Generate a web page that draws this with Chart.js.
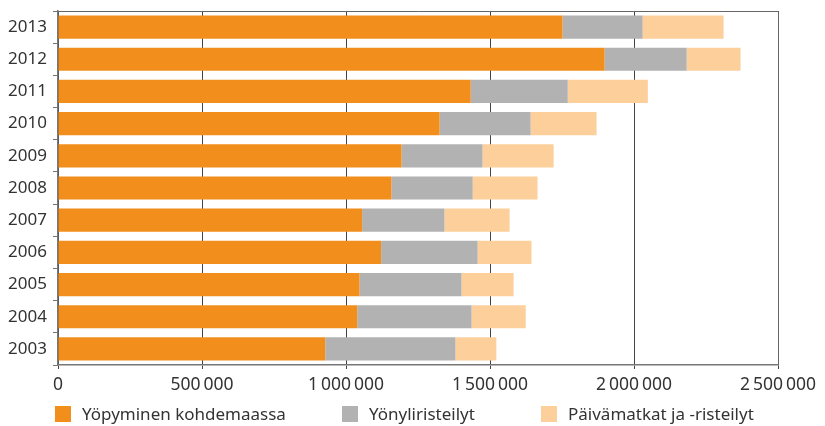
<!DOCTYPE html>
<html>
<head>
<meta charset="utf-8">
<script src="https://cdn.jsdelivr.net/npm/chart.js@4"></script>
<style>
  body { margin: 0; background: #fff; }
  #wrap { position: relative; width: 825px; height: 426px; }
  #legend { position: absolute; top: 402px; left: 0; width: 825px; height: 20px;
            font-family: "Noto Sans", sans-serif; font-size: 17px; color: #333; }
  .item { position: absolute; top: 0; display: flex; align-items: center; }
  .box { width: 16px; height: 16px; margin-right: 11px; }
</style>
</head>
<body>
<div id="wrap">
  <canvas id="chart" width="825" height="426"></canvas>
  <div id="legend"></div>
</div>
<script>
const years = ['2013', '2012', '2011', '2010', '2009', '2008', '2007', '2006', '2005', '2004', '2003'];
const overnight = [1752000, 1898000, 1433000, 1325000, 1193000, 1158000, 1056000, 1122000, 1047000, 1039000, 928000];
const cruises = [278000, 285000, 337000, 316000, 281000, 282000, 286000, 335000, 354000, 397000, 452000];
const dayTrips = [281000, 187000, 278000, 229000, 247000, 225000, 226000, 187000, 181000, 188000, 142000];
const seriesNames = ['Yöpyminen kohdemaassa', 'Yönyliristeilyt', 'Päivämatkat ja -risteilyt'];
const colors = ['#f28e1c', '#b2b2b2', '#fccf9b'];

const fontFamily = '"Noto Sans", sans-serif';

// box round the plot area (top and right edges)
const frame = {
    id: 'frame',
    afterDraw(chart) {
        const a = chart.chartArea;
        const c = chart.ctx;
        c.save();
        c.strokeStyle = '#666';
        c.lineWidth = 1;
        c.beginPath();
        c.moveTo(a.left, a.top + 0.5);
        c.lineTo(a.right + 0.5, a.top + 0.5);
        c.lineTo(a.right + 0.5, a.bottom);
        c.stroke();
        c.restore();
    }
};

const ctx = document.getElementById('chart').getContext('2d');
new Chart(ctx, {
    type: 'bar',
    data: {
        labels: years,
        datasets: [
            { label: seriesNames[0], data: overnight, backgroundColor: colors[0] },
            { label: seriesNames[1], data: cruises, backgroundColor: colors[1] },
            { label: seriesNames[2], data: dayTrips, backgroundColor: colors[2] }
        ]
    },
    options: {
        indexAxis: 'y',
        responsive: false,
        animation: false,
        datasets: { bar: { barPercentage: 0.72, categoryPercentage: 1 } },
        layout: { padding: { top: 11, right: 47, left: 0, bottom: 0 } },
        plugins: { legend: { display: false }, tooltip: { enabled: false } },
        scales: {
            x: {
                stacked: true,
                min: 0,
                max: 2500000,
                ticks: {
                    stepSize: 500000,
                    color: '#333',
                    padding: 6,
                    font: { family: fontFamily, size: 17.5 },
                    callback: v => v.toLocaleString('fi-FI').replace(/\s/g, '\u2009')
                },
                grid: { color: '#444', lineWidth: 1, tickLength: 4 },
                border: { color: '#777', width: 1.5 },
                afterFit: s => { s.height = 61; }
            },
            y: {
                stacked: true,
                ticks: {
                    color: '#333',
                    padding: 6,
                    font: { family: fontFamily, size: 17 }
                },
                grid: { drawOnChartArea: false, color: '#777', tickLength: 5, offset: true },
                border: { color: '#777', width: 1.5 },
                afterFit: s => { s.width = 58; s.paddingTop = 0; s.paddingBottom = 0; }
            }
        }
    },
    plugins: [frame]
});

// legend as html below the chart
const legendLeft = [55, 342, 541];
const legend = document.getElementById('legend');
seriesNames.forEach((name, i) => {
    const item = document.createElement('div');
    item.className = 'item';
    item.style.left = legendLeft[i] + 'px';
    const box = document.createElement('span');
    box.className = 'box';
    box.style.background = colors[i];
    const text = document.createElement('span');
    text.textContent = name;
    item.appendChild(box);
    item.appendChild(text);
    legend.appendChild(item);
});
</script>
</body>
</html>
